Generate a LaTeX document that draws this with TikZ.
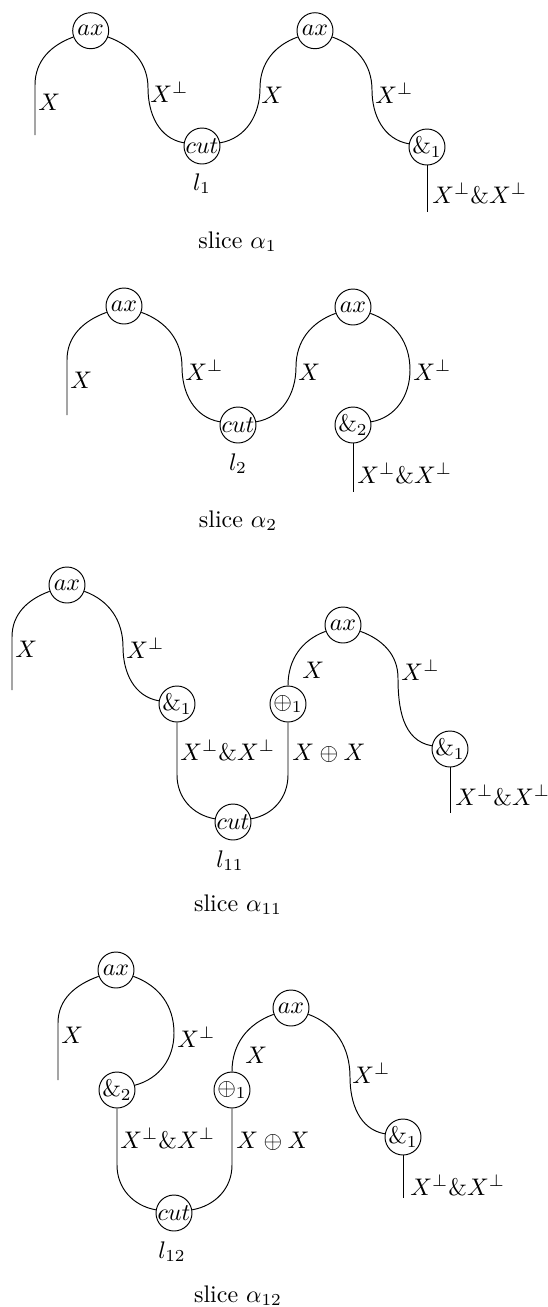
\documentclass[tikz,border=0pt]{standalone}
\begin{document}
\begin{tikzpicture}[x=0.41667pt,y=0.41667pt,
  gate/.style={draw,circle,minimum size=15pt,inner sep=0pt,line width=0.4pt},
  wire/.style={line width=0.4pt},
  lab/.style={anchor=base west,inner sep=0pt},
  captext/.style={anchor=base,inner sep=0pt}]
\useasboundingbox (0,0) rectangle (547,-1307);

% ---------- slice alpha_1 ----------
\node[gate] (A1) at (90.7,-30.7) {$ax$};
\node[gate] (C1) at (202,-146) {$cut$};
\node[gate] (A2) at (315,-30.7) {$ax$};
\node[gate] (W1) at (427,-147) {$\&_1$};
\coordinate (lb1) at (35,-135);
\coordinate (lt1) at (35,-85);
\coordinate (p1) at (148,-88);
\coordinate (q1) at (260,-88);
\coordinate (r1) at (372,-90);
\coordinate (e1) at (427,-212);
\draw[wire] (lb1) -- (lt1) to[out=90,in=200] (A1);
\draw[wire] (A1) to[out=-20,in=90] (p1) to[out=-90,in=170] (C1);
\draw[wire] (C1) to[out=10,in=-90] (q1) to[out=90,in=200] (A2);
\draw[wire] (A2) to[out=-20,in=90] (r1) to[out=-90,in=170] (W1);
\draw[wire] (W1) -- (e1);
\node[lab] (t1a) at (38,-110) {$X$};
\node[lab] (t1b) at (150,-102) {$X^\perp$};
\node[lab] (t1c) at (261,-103) {$X$};
\node[lab] (t1d) at (375,-103) {$X^\perp$};
\node[lab] (t1e) at (432,-203) {$X^\perp\&X^\perp$};
\node[captext] (l1) at (202,-190) {$l_1$};
\node[captext] (s1) at (237.5,-248) {slice $\alpha_1$};

% ---------- slice alpha_2 ----------
\node[gate] (A3) at (124,-306) {$ax$};
\node[gate] (C2) at (238,-425) {$cut$};
\node[gate] (A4) at (353,-307) {$ax$};
\node[gate] (W2) at (353,-425) {$\&_2$};
\coordinate (lb2) at (67,-415);
\coordinate (lt2) at (67,-360);
\coordinate (p2) at (182,-367);
\coordinate (q2) at (296,-367);
\coordinate (r2) at (410,-370);
\coordinate (e2) at (353,-492);
\draw[wire] (lb2) -- (lt2) to[out=90,in=200] (A3);
\draw[wire] (A3) to[out=-20,in=90] (p2) to[out=-90,in=170] (C2);
\draw[wire] (C2) to[out=10,in=-90] (q2) to[out=90,in=200] (A4);
\draw[wire] (A4) to[out=-20,in=90] (r2) to[out=-90,in=10] (W2);
\draw[wire] (W2) -- (e2);
\node[lab] (t2a) at (70,-388) {$X$};
\node[lab] (t2b) at (185,-380) {$X^\perp$};
\node[lab] (t2c) at (298,-380) {$X$};
\node[lab] (t2d) at (413,-380) {$X^\perp$};
\node[lab] (t2e) at (357,-483) {$X^\perp\&X^\perp$};
\node[captext] (l2) at (238,-470) {$l_2$};
\node[captext] (s2) at (238,-527) {slice $\alpha_2$};

% ---------- slice alpha_11 ----------
\node[gate] (A5) at (67,-585) {$ax$};
\node[gate] (W3) at (177,-704) {$\&_1$};
\node[gate] (C3) at (233,-822) {$cut$};
\node[gate] (P3) at (288,-704) {$\oplus_1$};
\node[gate] (A6) at (343,-625) {$ax$};
\node[gate] (W4) at (450,-749) {$\&_1$};
\coordinate (lb3) at (12,-690);
\coordinate (lt3) at (12,-637);
\coordinate (p3) at (123,-647);
\coordinate (m3) at (177,-775);
\coordinate (n3) at (288,-775);
\coordinate (r3) at (398,-678);
\coordinate (e3) at (450,-813);
\draw[wire] (lb3) -- (lt3) to[out=90,in=200] (A5);
\draw[wire] (A5) to[out=-20,in=90] (p3) to[out=-90,in=170] (W3);
\draw[wire] (W3) -- (m3) to[out=-90,in=170] (C3);
\draw[wire] (C3) to[out=10,in=-90] (n3) -- (P3);
\draw[wire] (P3) to[out=90,in=200] (A6);
\draw[wire] (A6) to[out=-20,in=90] (r3) to[out=-90,in=170] (W4);
\draw[wire] (W4) -- (e3);
\node[lab] (t3a) at (15,-657) {$X$};
\node[lab] (t3b) at (126,-658) {$X^\perp$};
\node[lab] (t3c) at (180,-760) {$X^\perp\&X^\perp$};
\node[lab] (t3d) at (292,-760) {$X\oplus X$};
\node[lab] (t3e) at (302,-678) {$X$};
\node[lab] (t3f) at (401,-680) {$X^\perp$};
\node[lab] (t3g) at (455,-805) {$X^\perp\&X^\perp$};
\node[captext] (l3) at (230,-867) {$l_{11}$};
\node[captext] (s3) at (238,-911) {slice $\alpha_{11}$};

% ---------- slice alpha_12 ----------
\node[gate] (A7) at (116,-970) {$ax$};
\node[gate] (W5) at (117,-1090) {$\&_2$};
\node[gate] (C4) at (174,-1213) {$cut$};
\node[gate] (P4) at (232,-1090) {$\oplus_1$};
\node[gate] (A8) at (291,-1008) {$ax$};
\node[gate] (W6) at (403,-1137) {$\&_1$};
\coordinate (lb4) at (58,-1080);
\coordinate (lt4) at (58,-1023);
\coordinate (p4) at (174,-1033);
\coordinate (m4) at (117,-1165);
\coordinate (n4) at (232,-1165);
\coordinate (r4) at (350,-1077);
\coordinate (e4) at (403,-1198);
\draw[wire] (lb4) -- (lt4) to[out=90,in=200] (A7);
\draw[wire] (A7) to[out=-20,in=90] (p4) to[out=-90,in=15] (W5);
\draw[wire] (W5) -- (m4) to[out=-90,in=170] (C4);
\draw[wire] (C4) to[out=10,in=-90] (n4) -- (P4);
\draw[wire] (P4) to[out=90,in=200] (A8);
\draw[wire] (A8) to[out=-20,in=90] (r4) to[out=-90,in=170] (W6);
\draw[wire] (W6) -- (e4);
\node[lab] (t4a) at (61,-1043) {$X$};
\node[lab] (t4b) at (177,-1047) {$X^\perp$};
\node[lab] (t4c) at (120,-1148) {$X^\perp\&X^\perp$};
\node[lab] (t4d) at (236,-1148) {$X\oplus X$};
\node[lab] (t4e) at (245,-1063) {$X$};
\node[lab] (t4f) at (352,-1083) {$X^\perp$};
\node[lab] (t4g) at (410,-1195) {$X^\perp\&X^\perp$};
\node[captext] (l4) at (172,-1258) {$l_{12}$};
\node[captext] (s4) at (238,-1302) {slice $\alpha_{12}$};
\end{tikzpicture}
\end{document}
